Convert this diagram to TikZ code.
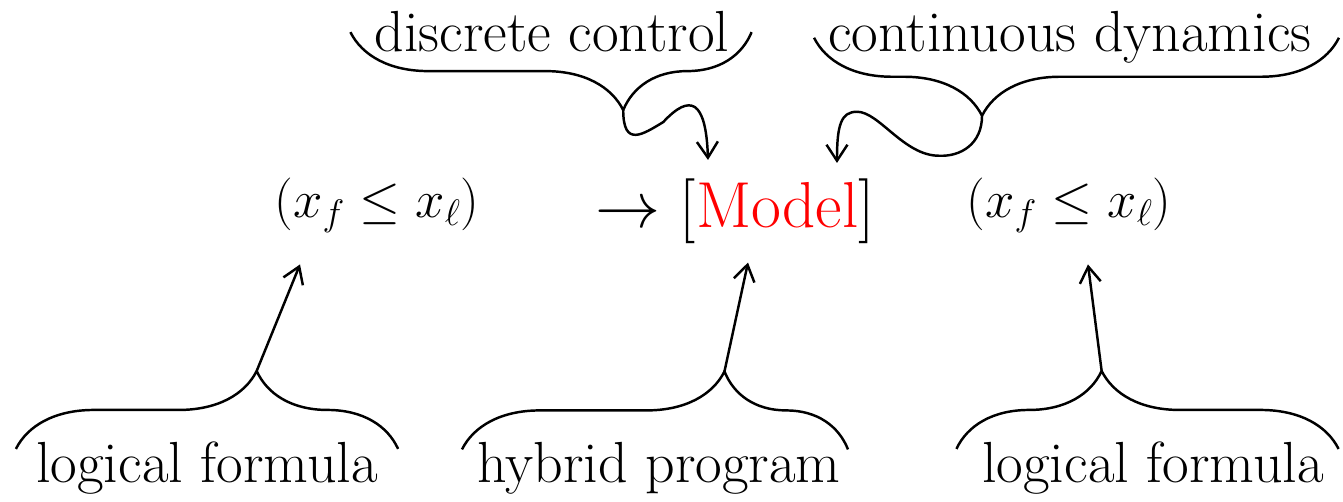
\RequirePackage{fix-cm}
\documentclass[tikz,border=0pt]{standalone}
\usepackage{tikz}
\usetikzlibrary{arrows.meta, calc, decorations.pathreplacing}
\tikzstyle{part} = [font=\fontsize{33}{40}\selectfont, inner sep=0pt, anchor=base]
\tikzstyle{formula} = [font=\fontsize{30}{36}\selectfont, inner sep=2pt, anchor=base]
\tikzstyle{program} = [font=\fontsize{37}{44}\selectfont, inner sep=2pt, anchor=base]
\tikzstyle{curly} = [line width=1.4pt, decorate, decoration={brace, amplitude=1.56cm}]
\tikzstyle{pointer} = [-{Straight Barb[length=3.2mm, width=4.2mm]}, line width=1.4pt]

\begin{document}
\begin{tikzpicture}[x=0.02cm, y=-0.02cm]
    \useasboundingbox (0,0) rectangle (1343,502);

    \node (model) [program] at (735,228) {$\rightarrow$ [\textcolor{red}{Model}]};
    \node (pre) [formula] at (377,218) {$(x_f \leq x_\ell)$};
    \node (post) [formula] at (1069,218) {$(x_f \leq x_\ell)$};

    \node (lbl ctrl) [part] at (552,52) {discrete control};
    \node (lbl dyn) [part] at (1070,52) {continuous dynamics};
    \node (lbl pre) [part] at (207,483) {logical formula};
    \node (lbl hp) [part] at (659,483) {hybrid program};
    \node (lbl post) [part] at (1153,483) {logical formula};

    % Braces under the top labels.
    \foreach \n/\a/\l/\r in {ctrl/0.32/0.48/0.44, dyn/0.68/0.28/0.54} {%
        \coordinate (e \n) at ([xshift=\r cm]lbl \n.east);
        \coordinate (w \n) at ([xshift=-\l cm]lbl \n.west);
        \coordinate [yshift=-1.56cm] (tip \n) at ($(e \n)!\a!(w \n)$);
        \draw [curly, decoration={aspect=\a}] (e \n) -- (w \n);
    }

    % Braces over the bottom labels.
    \foreach \n/\a/\l/\r in {pre/0.63/0.4/0.4, hp/0.68/0.3/0.14, post/0.38/0.51/0.29} {%
        \coordinate (w \n) at ([xshift=-\l cm, yshift=-0.14cm]lbl \n.north west);
        \coordinate (e \n) at ([xshift=\r cm, yshift=-0.14cm]lbl \n.north east);
        \coordinate [yshift=1.56cm] (tip \n) at ($(w \n)!\a!(e \n)$);
        \draw [curly, decoration={aspect=\a}] (w \n) -- (e \n);
    }

    % Arrows.
    \draw [pointer] (tip pre) -- ([xshift=-1.54cm, yshift=-0.55cm]pre.south);
    \draw [pointer] (tip hp) -- ([xshift=0.26cm, yshift=-0.29cm]model.south);
    \draw [pointer] (tip post) -- ([xshift=0.38cm, yshift=-0.55cm]post.south);
    \draw [pointer] (tip ctrl) .. controls +(0,38) and +(-20,12) .. ++(40,12)
        .. controls +(27,-29) and +(-2,-60) .. ([xshift=-0.54cm, yshift=0.31cm]model.north);
    \draw [pointer] (tip dyn) .. controls +(0,28) and +(22,1) .. ++(-43,40)
        .. controls +(-35,0) and +(22,0) .. ++(-82,-44)
        .. controls +(-16,0) and +(0,-38) .. ([xshift=2.04cm, yshift=0.25cm]model.north);
\end{tikzpicture}
\end{document}
